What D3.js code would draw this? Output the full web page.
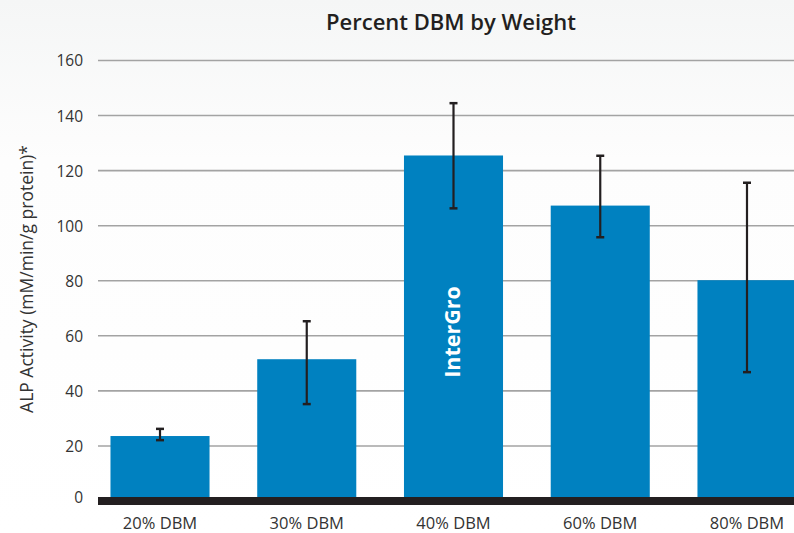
<!DOCTYPE html>
<html>
<head>
<meta charset="utf-8">
<script src="https://cdn.jsdelivr.net/npm/d3@7"></script>
<style>
  body { margin: 0; background: #fbfbfb; }
  svg { display: block; font-family: "Open Sans", "Noto Sans", sans-serif; }
</style>
</head>
<body>
<div id="chart"></div>
<script>
// Chart data
const categories = ['20% DBM', '30% DBM', '40% DBM', '60% DBM', '80% DBM'];
const values = [23.6, 51.5, 125.5, 107.3, 80.2];
const errLow = [22.1, 35.2, 106.3, 95.8, 46.8];
const errHigh = [26.2, 65.3, 144.5, 125.4, 115.6];
const yTicks = [0, 20, 40, 60, 80, 100, 120, 140, 160];
const barLabels = ['', '', 'InterGro', '', ''];

const width = 794, height = 533;
const margin = {top: 60.5, right: 0, bottom: 32, left: 98};

const svg = d3.select('#chart').append('svg')
    .attr('width', width)
    .attr('height', height);

// Light background gradient
const grad = svg.append('defs').append('linearGradient')
    .attr('id', 'bg').attr('x1', 0).attr('x2', 0).attr('y1', 0).attr('y2', 1);
grad.append('stop').attr('offset', '0%').attr('stop-color', '#f5f6f6');
grad.append('stop').attr('offset', '30%').attr('stop-color', '#fdfdfd');
grad.append('stop').attr('offset', '100%').attr('stop-color', '#ffffff');
svg.append('rect').attr('width', width).attr('height', height).attr('fill', 'url(#bg)');

// Scales
const x = d3.scaleBand()
    .domain(categories)
    .range([87, 820])
    .paddingInner(0.325)
    .paddingOuter(0.16);

const y = d3.scaleLinear()
    .domain([0, 160])
    .range([501, margin.top]);

// Gridlines
svg.append('g')
    .selectAll('line')
    .data(yTicks.filter(d => d > 0))
    .join('line')
    .attr('x1', margin.left)
    .attr('x2', width)
    .attr('y1', d => y(d))
    .attr('y2', d => y(d))
    .attr('stroke', '#a3a3a3')
    .attr('stroke-width', 1.6);

// Y axis labels
const yAxis = d3.axisLeft(y).tickValues(yTicks).tickSize(0).tickPadding(0);
svg.append('g')
    .attr('transform', `translate(83,0)`)
    .call(yAxis)
    .call(g => g.select('.domain').remove())
    .call(g => g.selectAll('text')
        .attr('font-size', 15.5)
        .attr('fill', '#333')
        .attr('font-family', '"Open Sans", sans-serif')
        .attr('dy', '0.35em'))
    .call(g => g.selectAll('.tick').filter(d => d === 0).select('text').attr('y', -4));

// Bars
svg.append('g')
    .selectAll('rect')
    .data(categories)
    .join('rect')
    .attr('x', d => x(d))
    .attr('width', x.bandwidth())
    .attr('y', (d, i) => y(values[i]))
    .attr('height', (d, i) => y(0) - y(values[i]))
    .attr('fill', '#0081c0');

// Baseline
svg.append('rect')
    .attr('x', margin.left)
    .attr('y', y(0) - 4)
    .attr('width', width - margin.left)
    .attr('height', 8)
    .attr('fill', '#231f20');

// Error bars
const errG = svg.append('g')
    .selectAll('g')
    .data(categories)
    .join('g')
    .attr('transform', d => `translate(${x(d) + x.bandwidth() / 2},0)`);
errG.append('line')
    .attr('y1', (d, i) => y(errLow[i]))
    .attr('y2', (d, i) => y(errHigh[i]))
    .attr('stroke', '#231f20')
    .attr('stroke-width', 2.2);
errG.append('line')
    .attr('x1', -4).attr('x2', 4)
    .attr('y1', (d, i) => y(errHigh[i]))
    .attr('y2', (d, i) => y(errHigh[i]))
    .attr('stroke', '#231f20')
    .attr('stroke-width', 2.5);
errG.append('line')
    .attr('x1', -4).attr('x2', 4)
    .attr('y1', (d, i) => y(errLow[i]))
    .attr('y2', (d, i) => y(errLow[i]))
    .attr('stroke', '#231f20')
    .attr('stroke-width', 2.5);

// Label inside bar
svg.append('g')
    .selectAll('text')
    .data(categories.filter((d, i) => barLabels[i]))
    .join('text')
    .attr('transform', d => `translate(${x(d) + x.bandwidth() / 2 + 6},${332}) rotate(-90)`)
    .attr('text-anchor', 'middle')
    .attr('fill', '#fff')
    .attr('font-size', 21.5)
    .attr('font-weight', 'bold')
    .text(d => barLabels[categories.indexOf(d)]);

// X axis labels
const xAxis = d3.axisBottom(x).tickSize(0).tickPadding(0);
svg.append('g')
    .attr('transform', `translate(0,${y(0) + 16})`)
    .call(xAxis)
    .call(g => g.select('.domain').remove())
    .call(g => g.selectAll('text')
        .attr('font-size', 16.5)
        .attr('fill', '#333')
        .attr('font-family', '"Open Sans", sans-serif'));

// Title
svg.append('text')
    .attr('x', 451)
    .attr('y', 30)
    .attr('text-anchor', 'middle')
    .attr('font-size', 22)
    .attr('font-weight', 600)
    .attr('fill', '#231f20')
    .text('Percent DBM by Weight');

// Y axis title
svg.append('text')
    .attr('transform', 'translate(33,279) rotate(-90)')
    .attr('text-anchor', 'middle')
    .attr('font-size', 17.5)
    .attr('fill', '#333')
    .text('ALP Activity (mM/min/g protein)*');
</script>
</body>
</html>
